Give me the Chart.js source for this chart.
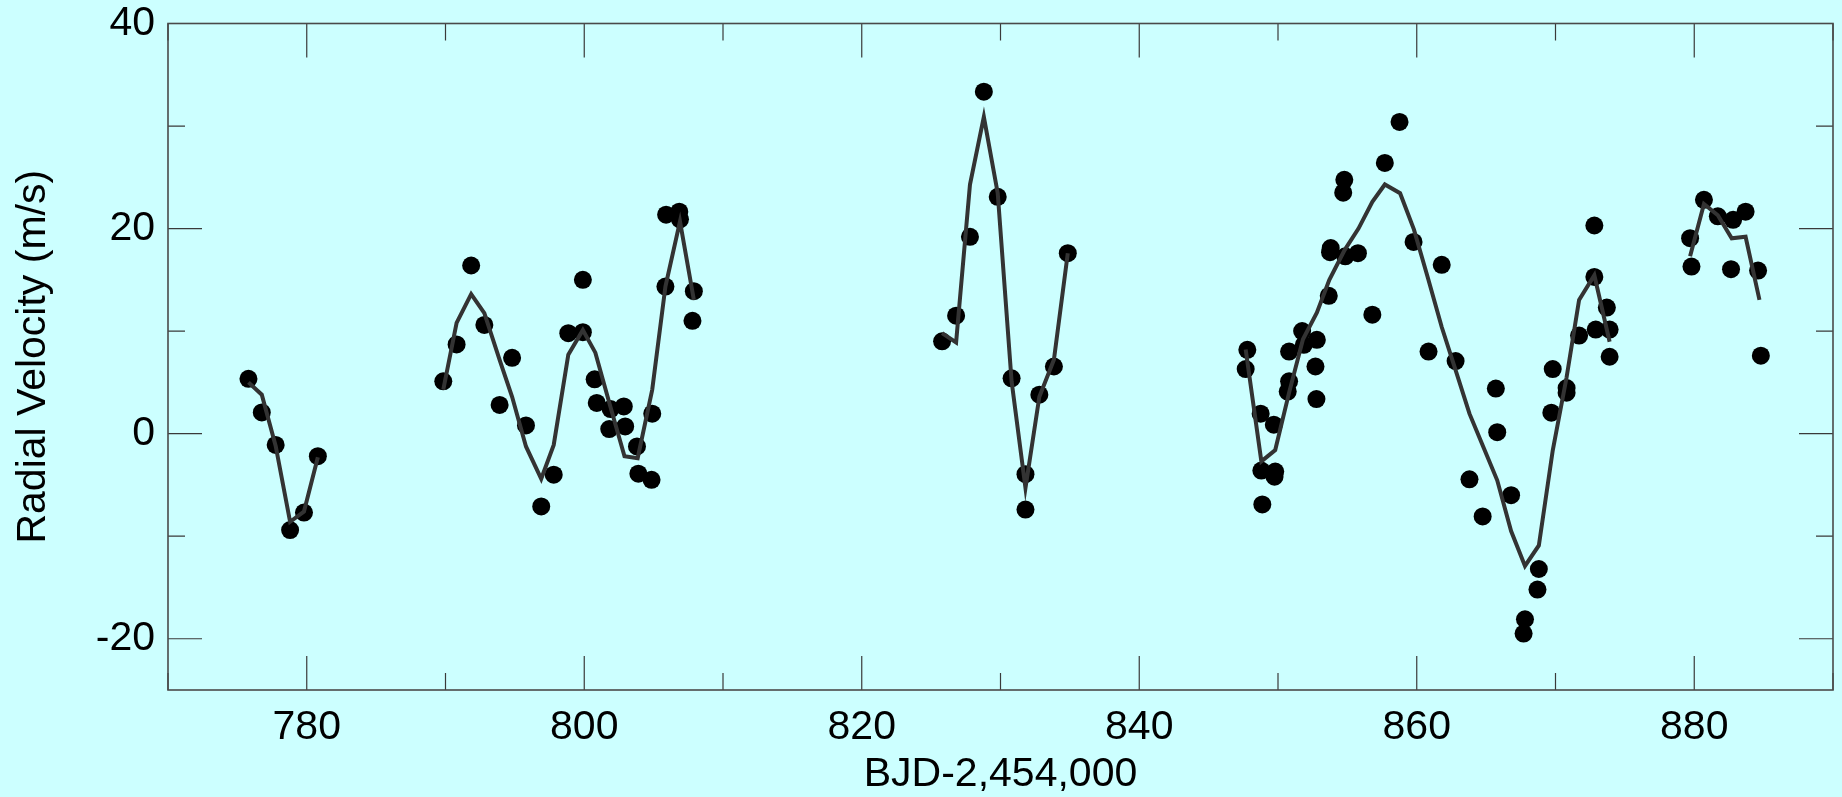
<!DOCTYPE html>
<html>
<head>
<meta charset="utf-8">
<script src="https://cdn.jsdelivr.net/npm/chart.js@4.4.0/dist/chart.umd.min.js"></script>
<style>
  html, body { margin: 0; padding: 0; background: #ccffff; }
  #wrap { width: 1842px; height: 797px; }
</style>
</head>
<body>
<div id="wrap"><canvas id="graficoRV"></canvas></div>
<script>
// Observações (BJD-2,454,000 e velocidade radial em m/s)
const obsTime = [
    775.8, 776.76, 777.76, 778.8, 779.8, 780.8,
    789.84, 790.8, 791.85, 792.8, 793.9, 794.8, 795.8, 796.9, 797.8, 798.85,
    799.9, 799.9, 800.75, 800.9, 801.8, 801.9, 802.85, 802.95, 803.8, 803.9,
    804.85, 804.9, 805.85, 805.9, 806.85, 806.9, 807.8, 807.9,
    825.79, 826.8, 827.8, 828.8, 829.8, 830.8, 831.8, 831.8, 832.8, 833.85, 834.85,
    847.79, 847.67, 848.75, 848.8, 848.87, 849.7, 849.8, 849.75, 850.7, 850.8,
    850.8, 851.74, 851.86, 852.7, 852.77, 852.8, 853.66, 853.8, 853.75, 854.85,
    855.76, 854.7, 854.78, 856.8, 857.7, 858.76, 859.77, 860.85, 861.8, 862.8,
    863.8, 864.75, 865.7, 865.8, 866.8, 867.7, 867.8, 868.7, 868.8, 869.7,
    869.8, 870.8, 870.8, 871.7, 872.8, 872.8, 872.9, 873.7, 873.9, 873.9,
    879.7, 879.8, 880.7, 881.7, 882.65, 882.8, 883.7, 884.6, 884.8
];
const obsRV = [
    5.35, 2.07, -1.1, -9.4, -7.7, -2.2,
    5.1, 8.7, 16.4, 10.6, 2.8, 7.4, 0.8, -7.1, -4.0, 9.8,
    15.0, 9.9, 5.3, 3.0, 0.45, 2.4, 2.65, 0.7, -1.25, -3.9,
    -4.5, 1.95, 14.35, 21.35, 21.65, 20.9, 11.0, 13.9,
    9.0, 11.5, 19.2, 33.35, 23.1, 5.4, -3.95, -7.4, 3.8, 6.55, 17.6,
    8.18, 6.3, 1.95, -3.6, -6.9, 0.87, -3.7, -4.2, 4.1, 5.1,
    8.0, 10.0, 8.66, 6.55, 3.37, 9.15, 13.44, 18.1, 17.7, 17.3,
    17.6, 23.5, 24.75, 11.6, 26.4, 30.4, 18.7, 8.0, 16.47, 7.08,
    -4.45, -8.07, 4.4, 0.14, -6.0, -19.5, -18.1, -15.2, -13.2, 2.05,
    6.3, 4.0, 4.45, 9.57, 20.3, 15.28, 10.15, 12.3, 10.15, 7.5,
    19.06, 16.3, 22.8, 21.2, 16.04, 20.85, 21.65, 15.9, 7.6
];

// Curva do modelo; null separa as temporadas de observação
const modelTime = [
    775.8, 776.76, 777.76, 778.8, 779.8, 780.8, null,
    789.84, 790.8, 791.85, 792.8, 793.9, 794.8, 795.8, 796.9, 797.8, 798.85,
    799.9, 800.8, 801.85, 802.9, 803.85, 804.9, 805.85, 806.9, 807.9, null,
    825.79, 826.8, 827.8, 828.8, 829.8, 830.8, 831.8, 832.8, 833.85, 834.85, null,
    847.67, 848.8, 849.8, 850.8, 851.8, 852.8, 853.7, 854.8, 855.8, 856.8,
    857.7, 858.8, 859.8, 860.8, 861.8, 862.8, 863.8, 864.8, 865.8, 866.8,
    867.8, 868.8, 869.8, 870.8, 871.7, 872.8, 873.9, null,
    879.7, 880.7, 881.7, 882.7, 883.7, 884.7
];
const modelRV = [
    5.0, 3.8, -1.2, -8.6, -7.6, -2.3, null,
    4.3, 10.8, 13.6, 11.75, 7.2, 3.6, -1.25, -4.4, -1.1, 7.7,
    10.1, 7.9, 2.8, -2.2, -2.4, 4.3, 14.35, 20.7, 13.05, null,
    9.8, 8.9, 24.3, 30.9, 23.45, 5.1, -5.3, 3.6, 7.2, 17.6, null,
    8.2, -2.7, -1.6, 4.0, 9.2, 11.8, 15.0, 17.9, 20.0, 22.6,
    24.3, 23.45, 19.9, 15.2, 10.4, 6.2, 1.95, -1.3, -4.55, -9.5,
    -12.9, -10.9, -1.65, 5.5, 13.05, 15.45, 8.96, null,
    17.3, 22.4, 21.3, 19.05, 19.2, 13.05
];

// Rótulos dos eixos
const xTickLabels = [780, 800, 820, 840, 860, 880];
const yTickLabels = [-20, 0, 20, 40];

const pontos = obsTime.map((t, i) => ({ x: t, y: obsRV[i] }));
const curva = modelTime.map((t, i) => ({ x: t === null ? modelTime[i - 1] : t, y: modelRV[i] }));

const fonte = { family: 'Liberation Sans, Arial, sans-serif', size: 41 };

// tira o espaço extra que o Chart.js reserva para os rótulos das pontas
function semPadding(s) {
    s.paddingTop = 0;
    s.paddingBottom = 0;
    s.paddingLeft = 0;
    s.paddingRight = 0;
}

// Moldura com marcas para dentro nos quatro lados
const molduraETicks = {
    id: 'molduraETicks',
    afterDatasetsDraw(chart) {
        const { ctx, chartArea: a, scales: { x, y } } = chart;
        ctx.save();
        ctx.strokeStyle = '#3a3a3a';
        ctx.lineWidth = 1.2;
        ctx.beginPath();
        x.ticks.forEach(t => {
            if (t.value % 10 !== 0) return;
            const px = x.getPixelForValue(t.value);
            const len = t.value % 20 === 0 ? 34 : 17;
            ctx.moveTo(px, a.top); ctx.lineTo(px, a.top + len);
            ctx.moveTo(px, a.bottom); ctx.lineTo(px, a.bottom - len);
        });
        y.ticks.forEach(t => {
            if (t.value % 10 !== 0) return;
            const py = y.getPixelForValue(t.value);
            const len = t.value % 20 === 0 ? 34 : 17;
            ctx.moveTo(a.left, py); ctx.lineTo(a.left + len, py);
            ctx.moveTo(a.right, py); ctx.lineTo(a.right - len, py);
        });
        ctx.stroke();
        ctx.strokeStyle = '#4a4a4a';
        ctx.lineWidth = 1.6;
        ctx.strokeRect(a.left, a.top, a.width, a.height);
        ctx.restore();
    }
};

const ctx = document.getElementById('graficoRV').getContext('2d');
const grafico = new Chart(ctx, {
    type: 'scatter',
    data: {
        datasets: [{
            label: 'Modelo',
            data: curva,
            showLine: true,
            spanGaps: false,
            borderColor: '#333333',
            borderWidth: 4,
            pointRadius: 0,
            order: 0
        }, {
            label: 'Observações',
            data: pontos,
            backgroundColor: '#000000',
            borderWidth: 0,
            pointRadius: 9,
            pointHoverRadius: 9,
            order: 1
        }]
    },
    options: {
        responsive: true,
        maintainAspectRatio: false,
        animation: false,
        layout: { padding: { top: 23.5, right: 2, left: 0, bottom: 0 } },
        plugins: {
            legend: { display: false },
            tooltip: { enabled: false }
        },
        scales: {
            x: {
                type: 'linear',
                min: 770,
                max: 890,
                grid: { display: false, drawTicks: false },
                border: { display: false },
                ticks: {
                    stepSize: 10,
                    autoSkip: false,
                    maxRotation: 0,
                    padding: 13,
                    color: '#000',
                    font: fonte,
                    callback: v => xTickLabels.includes(v) ? String(v) : ''
                },
                title: {
                    display: true,
                    text: 'BJD-2,454,000',
                    color: '#000',
                    font: { ...fonte, lineHeight: 1.1 },
                    padding: 0
                },
                afterFit: s => { s.height = 107; semPadding(s); }
            },
            y: {
                type: 'linear',
                min: -25,
                max: 40,
                grid: { display: false, drawTicks: false },
                border: { display: false },
                ticks: {
                    stepSize: 10,
                    autoSkip: false,
                    padding: 13,
                    color: '#000',
                    font: fonte,
                    callback: v => yTickLabels.includes(v) ? String(v) : ''
                },
                title: {
                    display: true,
                    text: 'Radial Velocity (m/s)',
                    color: '#000',
                    font: fonte,
                    padding: { top: 9, bottom: 0 }
                },
                afterFit: s => { s.width = 168; semPadding(s); }
            }
        }
    },
    plugins: [molduraETicks]
});
</script>
</body>
</html>
